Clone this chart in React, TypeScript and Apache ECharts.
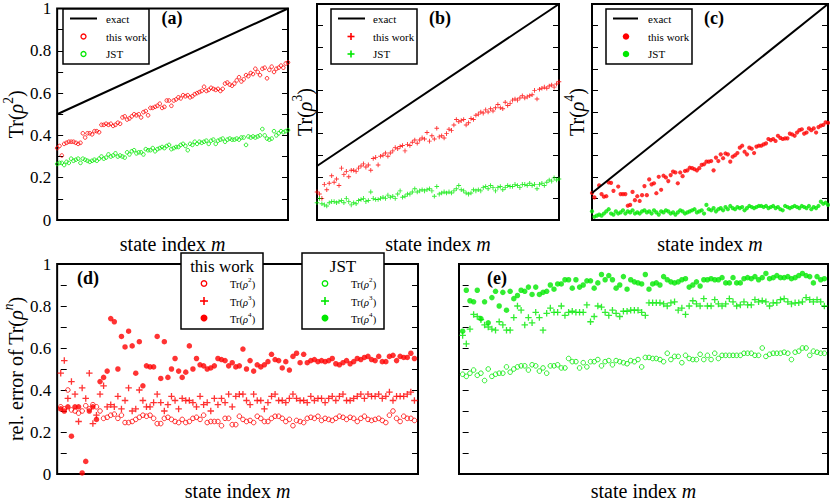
import React, { useEffect, useRef } from 'react';
import * as echarts from 'echarts';

const RED = '#ff0000';
const GREEN = '#00e800';
const FONT = "'Liberation Serif', 'DejaVu Serif', serif";

// state index m (0..99)
const mIndex = [
  0, 1, 2, 3, 4, 5, 6, 7, 8, 9, 10, 11, 12, 13, 14, 15, 16, 17, 18, 19,
  20, 21, 22, 23, 24, 25, 26, 27, 28, 29, 30, 31, 32, 33, 34, 35, 36, 37, 38, 39,
  40, 41, 42, 43, 44, 45, 46, 47, 48, 49, 50, 51, 52, 53, 54, 55, 56, 57, 58, 59,
  60, 61, 62, 63, 64, 65, 66, 67, 68, 69, 70, 71, 72, 73, 74, 75, 76, 77, 78, 79,
  80, 81, 82, 83, 84, 85, 86, 87, 88, 89, 90, 91, 92, 93, 94, 95, 96, 97, 98, 99,
];

// exact values at first and last m
const exactA = [0.5, 1.0];
const exactB = [0.25, 1.0];
const exactC = [0.125, 1.0];

// (a) Tr(rho^2)
const thisWorkA = [
  0.34, 0.35, 0.305, 0.36, 0.365, 0.37, 0.37, 0.37, 0.365, 0.36,
  0.365, 0.41, 0.39, 0.41, 0.41, 0.405, 0.42, 0.42, 0.415, 0.45,
  0.45, 0.455, 0.45, 0.455, 0.445, 0.45, 0.46, 0.455, 0.485, 0.49,
  0.475, 0.48, 0.49, 0.5, 0.495, 0.5, 0.485, 0.51, 0.515, 0.495,
  0.53, 0.53, 0.535, 0.54, 0.55, 0.53, 0.535, 0.565, 0.565, 0.54,
  0.565, 0.57, 0.58, 0.575, 0.59, 0.585, 0.59, 0.58, 0.585, 0.595,
  0.6, 0.605, 0.61, 0.63, 0.61, 0.615, 0.625, 0.62, 0.615, 0.62,
  0.61, 0.62, 0.645, 0.65, 0.64, 0.635, 0.645, 0.66, 0.675, 0.655,
  0.665, 0.685, 0.68, 0.695, 0.69, 0.715, 0.7, 0.685, 0.715, 0.72,
  0.67, 0.71, 0.725, 0.7, 0.715, 0.72, 0.73, 0.72, 0.74, 0.745,
];
const jstA = [
  0.265, 0.27, 0.27, 0.26, 0.275, 0.27, 0.29, 0.28, 0.285, 0.29,
  0.27, 0.29, 0.285, 0.28, 0.275, 0.28, 0.285, 0.28, 0.29, 0.3,
  0.29, 0.295, 0.31, 0.3, 0.305, 0.315, 0.3, 0.305, 0.3, 0.295,
  0.32, 0.31, 0.325, 0.33, 0.315, 0.32, 0.32, 0.31, 0.335, 0.33,
  0.33, 0.34, 0.325, 0.335, 0.34, 0.345, 0.34, 0.35, 0.355, 0.335,
  0.34, 0.345, 0.345, 0.355, 0.36, 0.35, 0.33, 0.36, 0.355, 0.37,
  0.36, 0.37, 0.365, 0.37, 0.375, 0.36, 0.375, 0.38, 0.36, 0.375,
  0.38, 0.385, 0.37, 0.38, 0.385, 0.38, 0.38, 0.385, 0.38, 0.39,
  0.39, 0.355, 0.395, 0.39, 0.395, 0.39, 0.395, 0.4, 0.43, 0.4,
  0.385, 0.38, 0.385, 0.42, 0.4, 0.41, 0.42, 0.415, 0.42, 0.425,
];

// (b) Tr(rho^3)
const thisWorkB = [
  0.13, 0.12, 0.1, 0.165, 0.14, 0.17, 0.205, 0.175, 0.19, 0.16,
  0.24, 0.21, 0.225, 0.2, 0.23, 0.23, 0.225, 0.24, 0.25, 0.26,
  0.245, 0.255, 0.23, 0.285, 0.29, 0.255, 0.295, 0.3, 0.31, 0.295,
  0.31, 0.32, 0.335, 0.33, 0.34, 0.345, 0.32, 0.35, 0.345, 0.36,
  0.37, 0.355, 0.37, 0.38, 0.375, 0.405, 0.365, 0.39, 0.375, 0.425,
  0.385, 0.39, 0.38, 0.4, 0.42, 0.415, 0.44, 0.465, 0.455, 0.46,
  0.465, 0.44, 0.45, 0.47, 0.465, 0.485, 0.49, 0.5, 0.495, 0.51,
  0.5, 0.515, 0.505, 0.52, 0.535, 0.52, 0.515, 0.545, 0.53, 0.54,
  0.555, 0.56, 0.555, 0.565, 0.575, 0.565, 0.57, 0.575, 0.58, 0.6,
  0.56, 0.605, 0.61, 0.615, 0.61, 0.62, 0.625, 0.615, 0.63, 0.64,
];
const jstB = [
  0.08, 0.1, 0.075, 0.07, 0.065, 0.08, 0.085, 0.085, 0.08, 0.085,
  0.09, 0.08, 0.1, 0.085, 0.07, 0.08, 0.075, 0.09, 0.095, 0.1,
  0.085, 0.09, 0.13, 0.1, 0.095, 0.095, 0.1, 0.105, 0.1, 0.115,
  0.105, 0.11, 0.1, 0.12, 0.135, 0.105, 0.11, 0.12, 0.12, 0.13,
  0.145, 0.13, 0.135, 0.14, 0.135, 0.14, 0.145, 0.135, 0.11, 0.155,
  0.12, 0.125, 0.13, 0.125, 0.13, 0.125, 0.135, 0.145, 0.16, 0.14,
  0.135, 0.125, 0.12, 0.125, 0.14, 0.135, 0.14, 0.135, 0.15, 0.155,
  0.145, 0.16, 0.15, 0.135, 0.15, 0.155, 0.14, 0.15, 0.16, 0.155,
  0.155, 0.165, 0.16, 0.15, 0.165, 0.165, 0.16, 0.17, 0.16, 0.165,
  0.145, 0.165, 0.17, 0.16, 0.175, 0.185, 0.18, 0.195, 0.185, 0.19,
];

// (c) Tr(rho^4)
const thisWorkC = [
  0.125, 0.105, -0.01, 0.16, 0.12, 0.108, 0.11, 0.174, 0.172, 0.135,
  -0.01, 0.155, 0.12, 0.12, 0.12, 0.066, 0.07, 0.13, 0.092, 0.11,
  0.088, 0.115, 0.157, 0.115, 0.188, 0.165, 0.17, 0.124, 0.2, 0.14,
  0.205, 0.197, 0.18, 0.208, 0.224, 0.22, 0.17, 0.22, 0.203, 0.227,
  0.23, 0.242, 0.24, 0.235, 0.23, 0.24, 0.255, 0.258, 0.27, 0.27,
  0.273, 0.23, 0.289, 0.273, 0.304, 0.286, 0.308, 0.304, 0.27, 0.293,
  0.3, 0.31, 0.335, 0.344, 0.316, 0.304, 0.335, 0.33, 0.31, 0.34,
  0.344, 0.344, 0.35, 0.355, 0.375, 0.37, 0.375, 0.366, 0.39, 0.38,
  0.375, 0.378, 0.378, 0.4, 0.396, 0.39, 0.405, 0.416, 0.42, 0.4,
  0.405, 0.424, 0.416, 0.424, 0.405, 0.43, 0.437, 0.44, 0.452, 0.45,
];
const jstC = [
  0.04, 0.015, 0.02, 0.025, 0.02, 0.03, 0.04, 0.05, 0.03, 0.025,
  0.04, 0.03, 0.035, 0.045, 0.03, 0.04, 0.035, 0.045, 0.03, 0.035,
  0.03, 0.04, 0.045, 0.035, 0.04, 0.03, 0.045, 0.035, 0.025, 0.04,
  0.035, 0.045, 0.04, 0.03, 0.035, 0.025, 0.035, 0.045, 0.04, 0.03,
  0.035, 0.04, 0.045, 0.05, 0.035, 0.04, 0.045, 0.03, 0.07, 0.05,
  0.045, 0.055, 0.04, 0.05, 0.055, 0.045, 0.06, 0.05, 0.065, 0.055,
  0.05, 0.06, 0.055, 0.06, 0.045, 0.055, 0.065, 0.06, 0.055, 0.06,
  0.065, 0.065, 0.06, 0.065, 0.055, 0.06, 0.065, 0.055, 0.06, 0.05,
  0.045, 0.065, 0.06, 0.055, 0.06, 0.065, 0.06, 0.055, 0.065, 0.06,
  0.055, 0.065, 0.05, 0.06, 0.055, 0.065, 0.085, 0.075, 0.08, 0.07,
];

// (d) relative error, this work
const errRho2This = [
  0.32, 0.31, 0.4, 0.305, 0.3, 0.29, 0.3, 0.325, 0.31, 0.33,
  0.32, 0.3, 0.265, 0.27, 0.28, 0.285, 0.265, 0.28, 0.245, 0.245,
  0.25, 0.26, 0.27, 0.28, 0.275, 0.28, 0.265, 0.24, 0.24, 0.265,
  0.27, 0.26, 0.25, 0.245, 0.26, 0.245, 0.25, 0.265, 0.27, 0.26,
  0.28, 0.245, 0.25, 0.25, 0.25, 0.23, 0.265, 0.265, 0.235, 0.235,
  0.275, 0.26, 0.25, 0.255, 0.245, 0.275, 0.265, 0.25, 0.25, 0.265,
  0.275, 0.275, 0.265, 0.25, 0.26, 0.23, 0.255, 0.25, 0.245, 0.265,
  0.27, 0.265, 0.275, 0.255, 0.265, 0.26, 0.255, 0.265, 0.275, 0.27,
  0.26, 0.27, 0.265, 0.25, 0.265, 0.275, 0.26, 0.255, 0.26, 0.265,
  0.255, 0.245, 0.28, 0.3, 0.265, 0.25, 0.275, 0.265, 0.265, 0.255,
];
const errRho3This = [
  0.48, 0.54, 0.36, 0.44, 0.38, 0.25, 0.41, 0.36, 0.48, 0.24,
  0.28, 0.38, 0.42, 0.32, 0.33, 0.32, 0.37, 0.31, 0.35, 0.41,
  0.3, 0.31, 0.4, 0.35, 0.32, 0.32, 0.34, 0.38, 0.34, 0.3,
  0.33, 0.37, 0.35, 0.31, 0.36, 0.35, 0.35, 0.34, 0.32, 0.37,
  0.33, 0.34, 0.3, 0.36, 0.33, 0.36, 0.34, 0.38, 0.32, 0.37,
  0.38, 0.38, 0.35, 0.33, 0.38, 0.35, 0.35, 0.31, 0.34, 0.37,
  0.38, 0.35, 0.35, 0.34, 0.36, 0.38, 0.36, 0.35, 0.35, 0.34,
  0.37, 0.35, 0.36, 0.36, 0.34, 0.36, 0.37, 0.35, 0.37, 0.38,
  0.35, 0.35, 0.36, 0.37, 0.38, 0.36, 0.38, 0.37, 0.37, 0.38,
  0.36, 0.37, 0.39, 0.35, 0.37, 0.37, 0.37, 0.38, 0.39, 0.35,
];
const errRho4This = [
  0.31, 0.3, 0.32, 0.18, 0.32, 0.32, 0.005, 0.06, 0.3, 0.32,
  0.26, 0.44, 0.46, 0.49, 0.74, 0.725, 0.5, 0.655, 0.605, 0.68,
  0.61, 0.48, 0.63, 0.42, 0.515, 0.51, 0.51, 0.655, 0.455, 0.63,
  0.46, 0.5, 0.55, 0.49, 0.46, 0.485, 0.61, 0.5, 0.55, 0.52,
  0.515, 0.5, 0.505, 0.515, 0.55, 0.545, 0.54, 0.515, 0.53, 0.51,
  0.515, 0.595, 0.5, 0.54, 0.49, 0.52, 0.51, 0.52, 0.535, 0.57,
  0.545, 0.54, 0.505, 0.535, 0.495, 0.56, 0.575, 0.53, 0.57, 0.53,
  0.54, 0.545, 0.535, 0.54, 0.535, 0.54, 0.55, 0.525, 0.52, 0.53,
  0.54, 0.525, 0.535, 0.55, 0.545, 0.555, 0.56, 0.545, 0.54, 0.56,
  0.535, 0.535, 0.56, 0.565, 0.54, 0.56, 0.555, 0.555, 0.575, 0.55,
];

// (e) relative error, JST
const errRho2JST = [
  0.475, 0.465, 0.48, 0.495, 0.47, 0.48, 0.445, 0.5, 0.465, 0.475,
  0.48, 0.48, 0.51, 0.485, 0.5, 0.51, 0.515, 0.515, 0.495, 0.52,
  0.515, 0.49, 0.505, 0.48, 0.515, 0.515, 0.52, 0.505, 0.505, 0.55,
  0.535, 0.535, 0.505, 0.53, 0.51, 0.535, 0.535, 0.545, 0.515, 0.535,
  0.54, 0.52, 0.54, 0.535, 0.53, 0.525, 0.54, 0.535, 0.545, 0.51,
  0.555, 0.555, 0.55, 0.55, 0.545, 0.535, 0.575, 0.545, 0.56, 0.56,
  0.53, 0.565, 0.55, 0.545, 0.545, 0.57, 0.545, 0.565, 0.545, 0.575,
  0.55, 0.565, 0.565, 0.565, 0.565, 0.565, 0.565, 0.575, 0.575, 0.575,
  0.565, 0.565, 0.6, 0.56, 0.57, 0.575, 0.575, 0.575, 0.58, 0.575,
  0.545, 0.58, 0.585, 0.6, 0.6, 0.565, 0.585, 0.58, 0.575, 0.575,
];
const errRho3JST = [
  0.66, 0.62, 0.69, 0.76, 0.75, 0.735, 0.71, 0.7, 0.69, 0.685,
  0.725, 0.71, 0.685, 0.685, 0.745, 0.8, 0.78, 0.71, 0.745, 0.72,
  0.77, 0.745, 0.685, 0.765, 0.79, 0.77, 0.77, 0.8, 0.755, 0.77,
  0.775, 0.77, 0.77, 0.77, 0.805, 0.725, 0.75, 0.8, 0.795, 0.77,
  0.755, 0.78, 0.765, 0.75, 0.775, 0.775, 0.78, 0.78, 0.78, 0.77,
  0.755, 0.815, 0.815, 0.815, 0.815, 0.81, 0.8, 0.815, 0.82, 0.78,
  0.79, 0.76, 0.8, 0.825, 0.81, 0.8, 0.835, 0.8, 0.8, 0.83,
  0.81, 0.8, 0.81, 0.835, 0.82, 0.8, 0.805, 0.82, 0.805, 0.805,
  0.83, 0.82, 0.825, 0.82, 0.8, 0.815, 0.815, 0.83, 0.835, 0.82,
  0.81, 0.815, 0.815, 0.82, 0.84, 0.83, 0.82, 0.83, 0.82, 0.8,
];
const errRho4JST = [
  0.68, 0.875, 0.825, 0.82, 0.875, 0.74, 0.82, 0.72, 0.84, 0.87,
  0.8, 0.865, 0.78, 0.87, 0.835, 0.85, 0.875, 0.87, 0.89, 0.855,
  0.89, 0.855, 0.865, 0.87, 0.9, 0.88, 0.905, 0.905, 0.925, 0.925,
  0.885, 0.925, 0.89, 0.9, 0.92, 0.92, 0.885, 0.91, 0.95, 0.925,
  0.945, 0.925, 0.885, 0.9, 0.94, 0.88, 0.925, 0.915, 0.91, 0.905,
  0.95, 0.88, 0.905, 0.91, 0.9, 0.94, 0.925, 0.915, 0.91, 0.915,
  0.925, 0.93, 0.89, 0.9, 0.915, 0.895, 0.925, 0.925, 0.93, 0.925,
  0.925, 0.935, 0.91, 0.91, 0.935, 0.91, 0.91, 0.93, 0.935, 0.93,
  0.94, 0.925, 0.935, 0.955, 0.93, 0.935, 0.945, 0.935, 0.935, 0.94,
  0.93, 0.935, 0.945, 0.955, 0.945, 0.94, 0.91, 0.94, 0.925, 0.93,
];

const yTicks = ['0', '0.2', '0.4', '0.6', '0.8', '1'];

const PLUS =
  'path://M-1,-0.2L-0.2,-0.2L-0.2,-1L0.2,-1L0.2,-0.2L1,-0.2L1,0.2L0.2,0.2L0.2,1L-0.2,1L-0.2,0.2L-1,0.2Z';

const pts = (vals: number[]) => vals.map((v, i) => [mIndex[i], v]);

const grids = [
  { left: 50, top: 4, width: 238, height: 216 },
  { left: 317, top: 4, width: 242, height: 216 },
  { left: 592, top: 4, width: 236, height: 216 },
  { left: 50, top: 264, width: 368, height: 218 },
  { left: 459, top: 264, width: 369, height: 218 },
];

function marker(kind: string, color: string, size: number) {
  if (kind === 'open')
    return {
      symbol: 'circle',
      symbolSize: size,
      itemStyle: { color: 'rgba(255,255,255,0)', borderColor: color, borderWidth: 1 },
    };
  if (kind === 'plus') return { symbol: PLUS, symbolSize: size, itemStyle: { color } };
  return { symbol: 'circle', symbolSize: size, itemStyle: { color } };
}

function scatter(name: string, g: number, vals: number[], kind: string, color: string, size: number) {
  return {
    type: 'scatter',
    name,
    xAxisIndex: g,
    yAxisIndex: g * 2,
    data: pts(vals),
    z: 3,
    ...marker(kind, color, size),
  };
}

function exactLine(g: number, vals: number[]) {
  return {
    type: 'line',
    name: 'exact',
    xAxisIndex: g,
    yAxisIndex: g * 2,
    data: [
      [mIndex[0], vals[0]],
      [mIndex[mIndex.length - 1], vals[1]],
    ],
    symbol: 'none',
    lineStyle: { color: '#000', width: 2 },
    z: 4,
  };
}

function richFor(size: number) {
  return {
    n: { fontFamily: FONT, fontSize: size, color: '#000', verticalAlign: 'bottom', lineHeight: size * 1.25 },
    i: { fontFamily: FONT, fontSize: size, color: '#000', fontStyle: 'italic', verticalAlign: 'bottom', lineHeight: size * 1.25 },
    s: { fontFamily: FONT, fontSize: size * 0.68, color: '#000', verticalAlign: 'top', lineHeight: size * 1.25 },
    si: { fontFamily: FONT, fontSize: size * 0.68, color: '#000', fontStyle: 'italic', verticalAlign: 'top', lineHeight: size * 1.25 },
  };
}

function txt(text: string, x: number, y: number, size: number, align = 'left', weight = 'normal', rich?: any) {
  return {
    type: 'text',
    x,
    y,
    z: 110,
    style: {
      text,
      fill: '#000',
      fontSize: size,
      fontFamily: FONT,
      fontWeight: weight,
      align,
      verticalAlign: 'middle',
      textAlign: align,
      textVerticalAlign: 'middle',
      ...(rich ? { rich } : {}),
    },
  };
}

function legMarker(kind: string, color: string, cx: number, cy: number, s: number) {
  if (kind === 'open')
    return { type: 'circle', z: 110, shape: { cx, cy, r: s / 2 }, style: { fill: '#fff', stroke: color, lineWidth: 1.3 } };
  if (kind === 'filled') return { type: 'circle', z: 110, shape: { cx, cy, r: s / 2 }, style: { fill: color } };
  const t = 1.6;
  return {
    type: 'group',
    z: 110,
    children: [
      { type: 'rect', z: 110, shape: { x: cx - s / 2, y: cy - t / 2, width: s, height: t }, style: { fill: color } },
      { type: 'rect', z: 110, shape: { x: cx - t / 2, y: cy - s / 2, width: t, height: s }, style: { fill: color } },
    ],
  };
}

function box(x: number, y: number, w: number, h: number) {
  return { type: 'rect', z: 105, shape: { x, y, width: w, height: h }, style: { fill: '#fff', stroke: '#000', lineWidth: 1.5 } };
}

function topLegend(x: number, lineX1: number, lineX2: number, mx: number, tx: number, kind: string, ms: number) {
  return [
    box(x, 9, 86, 55),
    { type: 'line', z: 110, shape: { x1: lineX1, y1: 18.5, x2: lineX2, y2: 18.5 }, style: { stroke: '#000', lineWidth: 2 } },
    txt('exact', tx, 18.5, 11),
    legMarker(kind, RED, mx, 36.5, ms),
    txt('this work', tx, 36.5, 11),
    legMarker(kind, GREEN, mx, 54, ms),
    txt('JST', tx, 54, 11),
  ];
}

function bottomLegend(x: number, header: string, color: string) {
  const mx = x + 23;
  const tx = x + 49;
  const r = richFor(10.5);
  return [
    box(x, 253, 82, 76),
    txt(header, x + 41, 266, 17, 'center'),
    legMarker('open', color, mx, 283.5, 5.5),
    txt('{n|Tr(}{i|ρ}{s|2}{n|)}', tx, 283.5, 10.5, 'left', 'normal', r),
    legMarker('plus', color, mx, 301, 8),
    txt('{n|Tr(}{i|ρ}{s|3}{n|)}', tx, 301, 10.5, 'left', 'normal', r),
    legMarker('filled', color, mx, 318, 7),
    txt('{n|Tr(}{i|ρ}{s|4}{n|)}', tx, 318, 10.5, 'left', 'normal', r),
  ];
}

function tickFormatter(v: number) {
  const t = Math.round(v * 10);
  if (t % 2 !== 0) return '';
  return yTicks[t / 2];
}

export default function App() {
  const ref = useRef<HTMLDivElement>(null);
  useEffect(() => {
    document.body.style.margin = '0';
    if (!ref.current) return;
    const chart = echarts.init(ref.current, undefined, { renderer: 'svg' });
    const richName = richFor(20);

    const yNames = [
      { name: '{n|Tr(}{i|ρ}{s|2}{n|)}', gap: 26, labels: true },
      { name: '{n|Tr(}{i|ρ}{s|3}{n|)}', gap: 2, labels: false },
      { name: '{n|Tr(}{i|ρ}{s|4}{n|)}', gap: 5, labels: false },
      { name: '{n|rel. error of Tr(}{i|ρ}{si|n}{n|)}', gap: 26, labels: true },
      { name: '', gap: 5, labels: false },
    ];

    const xAxis = grids.map((_, g) => ({
      type: 'value',
      gridIndex: g,
      min: g < 3 ? mIndex[0] : mIndex[0] - 1,
      max: g < 3 ? mIndex[mIndex.length - 1] : mIndex[mIndex.length - 1] + 1,
      axisLine: { show: false },
      axisTick: { show: false },
      axisLabel: { show: false },
      splitLine: { show: false },
      name: '{n|state index }{i|m}',
      nameLocation: 'middle',
      nameGap: g < 3 ? 9 : 2,
      nameTextStyle: { rich: richName },
    }));

    const yAxis: any[] = [];
    grids.forEach((_, g) => {
      const common = {
        type: 'value',
        gridIndex: g,
        min: 0,
        max: 1,
        interval: 0.1,
        axisLine: { show: false },
        splitLine: { show: false },
        axisTick: { show: true, inside: true, length: 6, lineStyle: { color: '#000', width: 1 } },
      };
      yAxis.push({
        ...common,
        position: 'left',
        axisLabel: {
          show: yNames[g].labels,
          formatter: tickFormatter,
          fontFamily: FONT,
          fontSize: 17,
          color: '#000',
          margin: 6,
        },
        name: yNames[g].name,
        nameLocation: 'middle',
        nameGap: yNames[g].gap,
        nameTextStyle: { rich: richName },
      });
      yAxis.push({ ...common, position: 'right', axisLabel: { show: false } });
    });

    const series = [
      exactLine(0, exactA),
      scatter('this work', 0, thisWorkA, 'open', RED, 3.6),
      scatter('JST', 0, jstA, 'open', GREEN, 3.6),
      exactLine(1, exactB),
      scatter('this work', 1, thisWorkB, 'plus', RED, 4.6),
      scatter('JST', 1, jstB, 'plus', GREEN, 4.6),
      exactLine(2, exactC),
      scatter('this work', 2, thisWorkC, 'filled', RED, 4.2),
      scatter('JST', 2, jstC, 'filled', GREEN, 4.2),
      scatter('this work Tr(ρ²)', 3, errRho2This, 'open', RED, 4.6),
      scatter('this work Tr(ρ³)', 3, errRho3This, 'plus', RED, 6.5),
      scatter('this work Tr(ρ⁴)', 3, errRho4This, 'filled', RED, 5.5),
      scatter('JST Tr(ρ²)', 4, errRho2JST, 'open', GREEN, 4.6),
      scatter('JST Tr(ρ³)', 4, errRho3JST, 'plus', GREEN, 6.5),
      scatter('JST Tr(ρ⁴)', 4, errRho4JST, 'filled', GREEN, 5.5),
    ];

    const graphic = [
      ...topLegend(63, 70, 97, 83.5, 106, 'open', 5),
      ...topLegend(331, 338, 365, 351, 373, 'plus', 7),
      ...topLegend(606, 613, 638, 626, 648, 'filled', 6.5),
      ...bottomLegend(181, 'this work', RED),
      ...bottomLegend(302, 'JST', GREEN),
      txt('(a)', 172, 18, 18, 'center', 'bold'),
      txt('(b)', 440, 18, 18, 'center', 'bold'),
      txt('(c)', 714, 18, 18, 'center', 'bold'),
      txt('(d)', 88, 278, 18, 'center', 'bold'),
      txt('(e)', 497, 278, 18, 'center', 'bold'),
    ];

    chart.setOption({
      animation: false,
      backgroundColor: '#fff',
      textStyle: { fontFamily: FONT },
      grid: grids.map((g) => ({ ...g, show: true, borderColor: '#000', borderWidth: 2, backgroundColor: 'transparent' })),
      xAxis,
      yAxis,
      series,
      graphic,
    });
    return () => chart.dispose();
  }, []);
  return <div ref={ref} style={{ width: 830, height: 502 }} />;
}
